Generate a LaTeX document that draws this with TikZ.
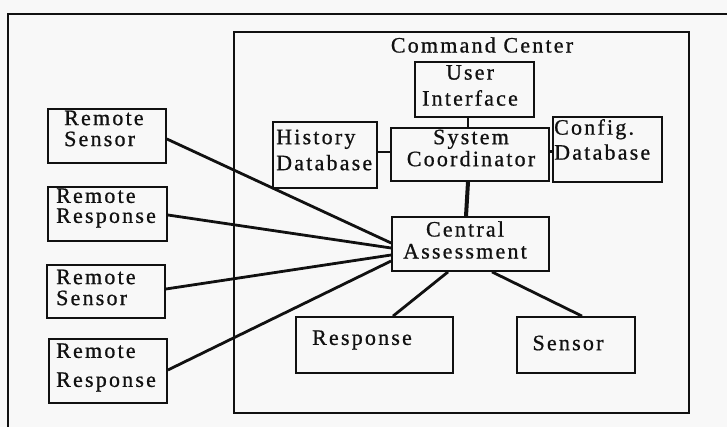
\documentclass[tikz,border=0pt]{standalone}
\usepackage{fontspec}
\setmainfont{Liberation Serif}[LetterSpace=10, FakeBold=0.8]
\usetikzlibrary{calc}
\definecolor{bgcol}{RGB}{248,248,248}
\definecolor{ink}{RGB}{17,17,17}
\tikzset{
  box/.style={draw=ink, line width=1.8pt, inner sep=0pt, rectangle},
  txt/.style={inner sep=0pt, text=ink, font=\fontsize{22}{22}\selectfont},
  link/.style={draw=ink, line width=2.8pt},
  thin link/.style={draw=ink, line width=2.2pt},
}
\begin{document}
\begin{tikzpicture}[x=1pt,y=-1pt]
\fill[bgcol] (0,0) rectangle (727,427);
\useasboundingbox (0,0) rectangle (727,427);
% outer frame
\draw[ink, line width=1.6pt] (8,440) |- (740,14);
% boxes
\node[box, minimum width=455pt, minimum height=381pt] (cc) at (461.5,222.5) {};
\node[box, minimum width=119pt, minimum height=55pt] (ui) at (474.5,89.5) {};
\node[box, minimum width=104pt, minimum height=66pt] (hd) at (325,155) {};
\node[box, minimum width=158pt, minimum height=53pt] (sc) at (470,154.5) {};
\node[box, minimum width=109pt, minimum height=65pt] (cd) at (607.5,149.5) {};
\node[box, minimum width=157pt, minimum height=54pt] (ca) at (470.5,244) {};
\node[box, minimum width=157pt, minimum height=56pt] (resp) at (374.5,345) {};
\node[box, minimum width=118pt, minimum height=56pt] (sens) at (576,345) {};
\node[box, minimum width=118pt, minimum height=54pt] (rs1) at (107,136) {};
\node[box, minimum width=119pt, minimum height=54pt] (rr1) at (107.5,214) {};
\node[box, minimum width=118pt, minimum height=53pt] (rs2) at (106,291.5) {};
\node[box, minimum width=118pt, minimum height=64pt] (rr2) at (108,371) {};
% texts
\node[txt] (cct) at (482,45) {Command Center};
\node[txt, align=center] (uit) at (470,85.5) {User\\[4pt]Interface};
\node[txt, align=left, anchor=west] (hdt) at (276,150) {History\\[4pt]Database};
\node[txt, align=center] (sct) at (471,148) {System\\Coordinator};
\node[txt, align=left, anchor=west] (cdt) at (554,139.5) {Config.\\[3pt]Database};
\node[txt, align=center] (cat) at (465,240) {Central\\Assessment};
\node[txt] (respt) at (362,340) {Response};
\node[txt] (senst) at (568,343) {Sensor};
\node[txt, align=left, anchor=west] (rs1t) at (64,128.5) {Remote\\[-1pt]Sensor};
\node[txt, align=left, anchor=west] (rr1t) at (56,208) {Remote\\[-2pt]Response};
\node[txt, align=left, anchor=west] (rs2t) at (56,287.5) {Remote\\[-1pt]Sensor};
\node[txt, align=left, anchor=west] (rr2t) at (56,367.5) {Remote\\[7pt]Response};
% connectors
\draw[link] ($(rs1.east)+(0,3)$) -- ($(ca.west)+(0,-1)$);
\draw[link] ($(rr1.east)+(0,1)$) -- ($(ca.west)+(0,4)$);
\draw[link] ($(rs2.east)+(0,-2.5)$) -- ($(ca.west)+(0,11)$);
\draw[link] ($(rr2.east)+(0,-1)$) -- ($(ca.west)+(0,17)$);
\draw[link] ($(ca.south)+(-22.5,0)$) -- ($(resp.north)+(18.5,0)$);
\draw[link] ($(ca.south)+(21.5,0)$) -- ($(sens.north)+(6,0)$);
\draw[ink, line width=4pt] ($(sc.south)+(-2,0)$) -- ($(ca.north)+(-4.5,0)$);
\draw[thin link] ($(ui.south)+(-6.5,0)$) -- ($(sc.north)+(-2,0)$);
\draw[thin link] ($(hd.east)+(0,-3)$) -- ($(sc.west)+(0,-2.5)$);
\draw[thin link] ($(sc.east)+(0,-3)$) -- ($(cd.west)+(0,2)$);
\end{tikzpicture}
\end{document}
